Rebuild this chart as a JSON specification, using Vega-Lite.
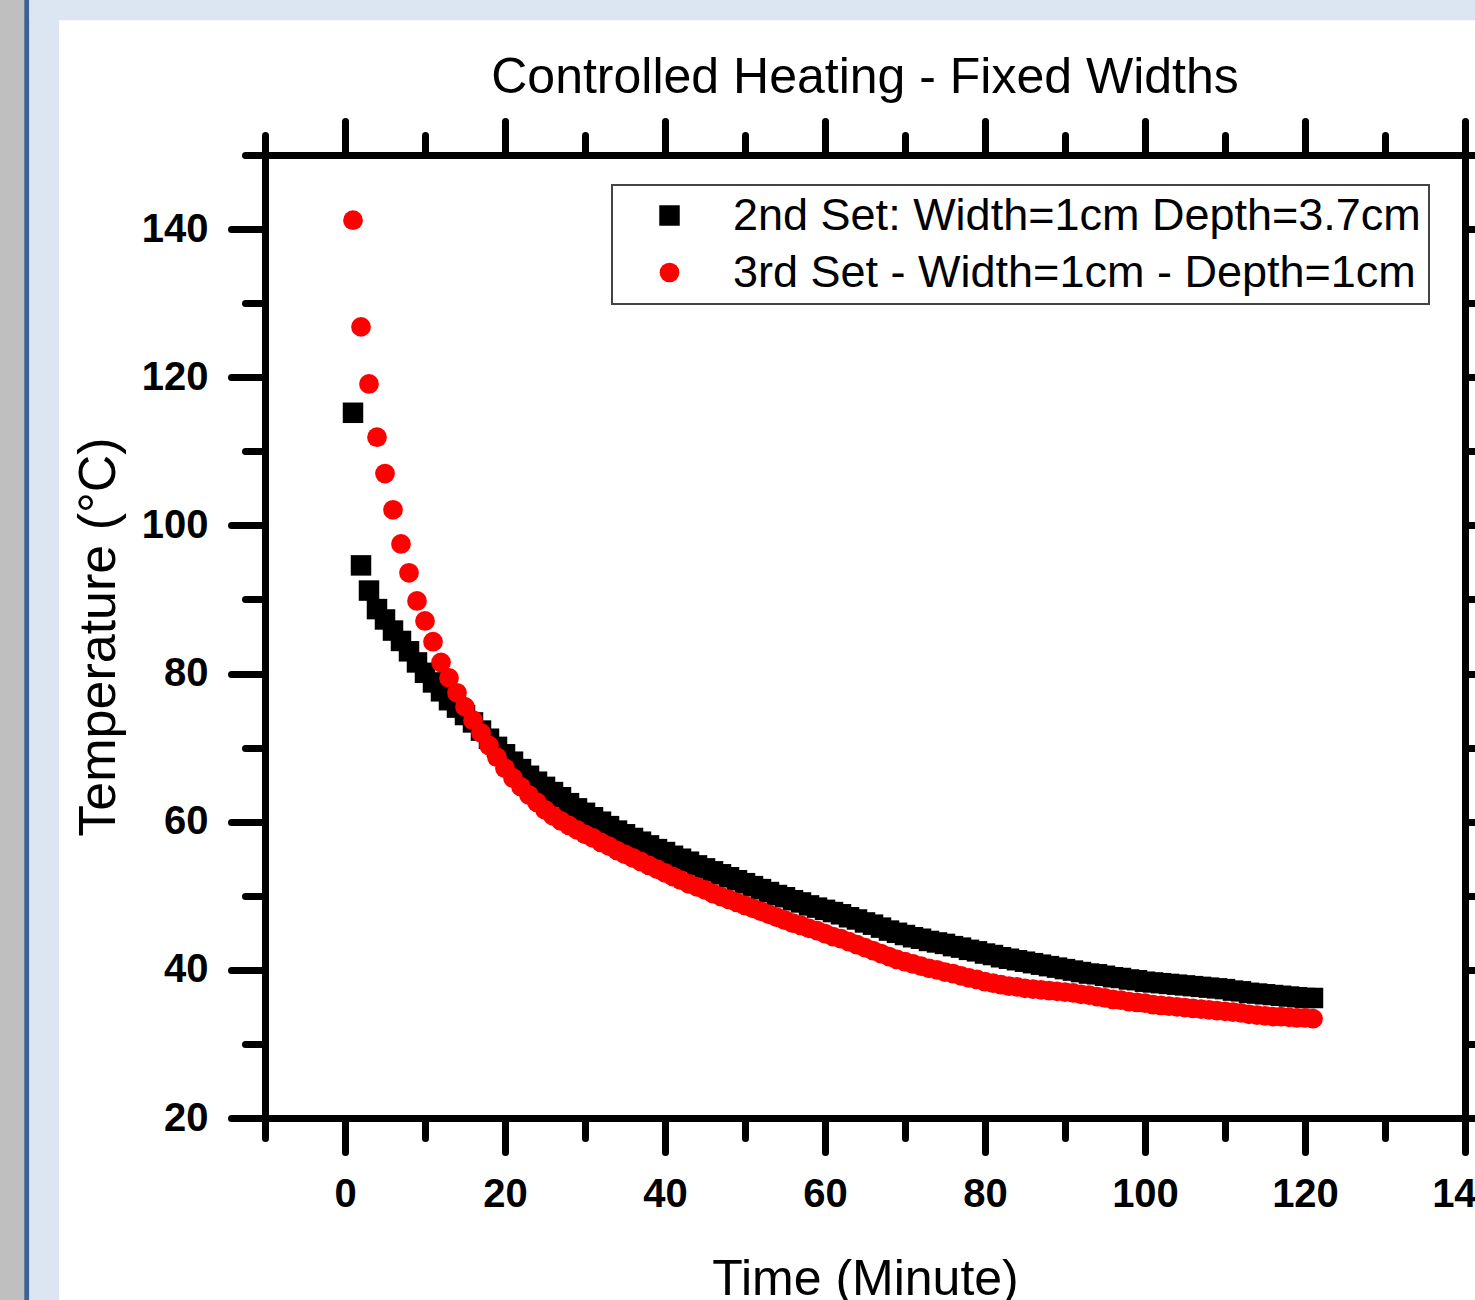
{
  "$schema": "https://vega.github.io/schema/vega-lite/v6.json",
  "width": 1200,
  "height": 963,
  "autosize": {"type": "none"},
  "padding": {"left": 265, "top": 155, "right": 10, "bottom": 182},
  "background": "#ffffff",
  "title": {"text": "Controlled Heating - Fixed Widths", "font": "Liberation Sans", "fontSize": 50, "fontWeight": "normal", "color": "#000000", "anchor": "middle", "frame": "group", "baseline": "alphabetic", "offset": -143},
  "config": {
    "view": {"stroke": null},
    "axis": {
      "domainColor": "#000000", "domainWidth": 7, "domainCap": "square",
      "tickColor": "#000000", "tickWidth": 7, "tickCap": "round",
      "labelFont": "Liberation Sans", "labelFontWeight": "bold", "labelFontSize": 40, "labelColor": "#000000",
      "labelFlush": false, "labelOverlap": false, "grid": false,
      "titleFont": "Liberation Sans", "titleFontSize": 50, "titleFontWeight": "normal", "titleColor": "#000000"
    },
    "legend": {"strokeWidth": 2}
  },
  "layer": [
    {
      "data": {"values": [{}]},
      "mark": {"type": "rect", "color": "#bfbfbf"},
      "encoding": {
        "x": {"datum": -43.2, "type": "quantitative", "scale": {"domain": [-10, 140], "nice": false, "zero": false}, "axis": null},
        "x2": {"datum": -40.1},
        "y": {"datum": -5, "type": "quantitative", "scale": {"domain": [20, 150], "nice": false, "zero": false}, "axis": null},
        "y2": {"datum": 170.95}
      }
    },
    {
      "data": {"values": [{}]},
      "mark": {"type": "rect", "color": "#3d6192"},
      "encoding": {
        "x": {"datum": -40.1, "type": "quantitative", "scale": {"domain": [-10, 140], "nice": false, "zero": false}, "axis": null},
        "x2": {"datum": -39.45},
        "y": {"datum": -5, "type": "quantitative", "scale": {"domain": [20, 150], "nice": false, "zero": false}, "axis": null},
        "y2": {"datum": 170.95}
      }
    },
    {
      "data": {"values": [{}]},
      "mark": {"type": "rect", "color": "#dce6f2"},
      "encoding": {
        "x": {"datum": -39.45, "type": "quantitative", "scale": {"domain": [-10, 140], "nice": false, "zero": false}, "axis": null},
        "x2": {"datum": -35.75},
        "y": {"datum": -5, "type": "quantitative", "scale": {"domain": [20, 150], "nice": false, "zero": false}, "axis": null},
        "y2": {"datum": 170.95}
      }
    },
    {
      "data": {"values": [{}]},
      "mark": {"type": "rect", "color": "#dce6f2"},
      "encoding": {
        "x": {"datum": -39.45, "type": "quantitative", "scale": {"domain": [-10, 140], "nice": false, "zero": false},
          "axis": {"orient": "top", "title": null, "labels": false, "values": [-10, 0, 10, 20, 30, 40, 50, 60, 70, 80, 90, 100, 110, 120, 130, 140],
            "tickSize": {"condition": {"test": "datum.value % 20 === 0", "value": 34}, "value": 20}}},
        "x2": {"datum": 141.3},
        "y": {"datum": 168.2, "type": "quantitative", "scale": {"domain": [20, 150], "nice": false, "zero": false},
          "axis": {"orient": "right", "title": null, "labels": false, "values": [20, 30, 40, 50, 60, 70, 80, 90, 100, 110, 120, 130, 140, 150],
            "tickSize": {"condition": {"test": "datum.value % 20 === 0", "value": 34}, "value": 20}}},
        "y2": {"datum": 170.95}
      }
    },
    {
      "data": {"values": [
        {"t":1,"temp":115.2,"series":"2nd Set: Width=1cm Depth=3.7cm"},
        {"t":2,"temp":94.6,"series":"2nd Set: Width=1cm Depth=3.7cm"},
        {"t":3,"temp":91.2,"series":"2nd Set: Width=1cm Depth=3.7cm"},
        {"t":4,"temp":88.7,"series":"2nd Set: Width=1cm Depth=3.7cm"},
        {"t":5,"temp":87.3,"series":"2nd Set: Width=1cm Depth=3.7cm"},
        {"t":6,"temp":85.8,"series":"2nd Set: Width=1cm Depth=3.7cm"},
        {"t":7,"temp":84.4,"series":"2nd Set: Width=1cm Depth=3.7cm"},
        {"t":8,"temp":83.0,"series":"2nd Set: Width=1cm Depth=3.7cm"},
        {"t":9,"temp":81.5,"series":"2nd Set: Width=1cm Depth=3.7cm"},
        {"t":10,"temp":80.1,"series":"2nd Set: Width=1cm Depth=3.7cm"},
        {"t":11,"temp":78.8,"series":"2nd Set: Width=1cm Depth=3.7cm"},
        {"t":12,"temp":77.6,"series":"2nd Set: Width=1cm Depth=3.7cm"},
        {"t":13,"temp":76.4,"series":"2nd Set: Width=1cm Depth=3.7cm"},
        {"t":14,"temp":75.4,"series":"2nd Set: Width=1cm Depth=3.7cm"},
        {"t":15,"temp":74.4,"series":"2nd Set: Width=1cm Depth=3.7cm"},
        {"t":16,"temp":73.4,"series":"2nd Set: Width=1cm Depth=3.7cm"},
        {"t":17,"temp":72.3,"series":"2nd Set: Width=1cm Depth=3.7cm"},
        {"t":18,"temp":71.2,"series":"2nd Set: Width=1cm Depth=3.7cm"},
        {"t":19,"temp":70.1,"series":"2nd Set: Width=1cm Depth=3.7cm"},
        {"t":20,"temp":69.1,"series":"2nd Set: Width=1cm Depth=3.7cm"},
        {"t":21,"temp":68.1,"series":"2nd Set: Width=1cm Depth=3.7cm"},
        {"t":22,"temp":67.1,"series":"2nd Set: Width=1cm Depth=3.7cm"},
        {"t":23,"temp":66.2,"series":"2nd Set: Width=1cm Depth=3.7cm"},
        {"t":24,"temp":65.4,"series":"2nd Set: Width=1cm Depth=3.7cm"},
        {"t":25,"temp":64.7,"series":"2nd Set: Width=1cm Depth=3.7cm"},
        {"t":26,"temp":64.0,"series":"2nd Set: Width=1cm Depth=3.7cm"},
        {"t":27,"temp":63.3,"series":"2nd Set: Width=1cm Depth=3.7cm"},
        {"t":28,"temp":62.5,"series":"2nd Set: Width=1cm Depth=3.7cm"},
        {"t":29,"temp":61.8,"series":"2nd Set: Width=1cm Depth=3.7cm"},
        {"t":30,"temp":61.2,"series":"2nd Set: Width=1cm Depth=3.7cm"},
        {"t":31,"temp":60.6,"series":"2nd Set: Width=1cm Depth=3.7cm"},
        {"t":32,"temp":60.0,"series":"2nd Set: Width=1cm Depth=3.7cm"},
        {"t":33,"temp":59.4,"series":"2nd Set: Width=1cm Depth=3.7cm"},
        {"t":34,"temp":58.8,"series":"2nd Set: Width=1cm Depth=3.7cm"},
        {"t":35,"temp":58.3,"series":"2nd Set: Width=1cm Depth=3.7cm"},
        {"t":36,"temp":57.8,"series":"2nd Set: Width=1cm Depth=3.7cm"},
        {"t":37,"temp":57.3,"series":"2nd Set: Width=1cm Depth=3.7cm"},
        {"t":38,"temp":56.8,"series":"2nd Set: Width=1cm Depth=3.7cm"},
        {"t":39,"temp":56.3,"series":"2nd Set: Width=1cm Depth=3.7cm"},
        {"t":40,"temp":55.9,"series":"2nd Set: Width=1cm Depth=3.7cm"},
        {"t":41,"temp":55.4,"series":"2nd Set: Width=1cm Depth=3.7cm"},
        {"t":42,"temp":55.0,"series":"2nd Set: Width=1cm Depth=3.7cm"},
        {"t":43,"temp":54.6,"series":"2nd Set: Width=1cm Depth=3.7cm"},
        {"t":44,"temp":54.1,"series":"2nd Set: Width=1cm Depth=3.7cm"},
        {"t":45,"temp":53.7,"series":"2nd Set: Width=1cm Depth=3.7cm"},
        {"t":46,"temp":53.3,"series":"2nd Set: Width=1cm Depth=3.7cm"},
        {"t":47,"temp":52.9,"series":"2nd Set: Width=1cm Depth=3.7cm"},
        {"t":48,"temp":52.5,"series":"2nd Set: Width=1cm Depth=3.7cm"},
        {"t":49,"temp":52.1,"series":"2nd Set: Width=1cm Depth=3.7cm"},
        {"t":50,"temp":51.7,"series":"2nd Set: Width=1cm Depth=3.7cm"},
        {"t":51,"temp":51.3,"series":"2nd Set: Width=1cm Depth=3.7cm"},
        {"t":52,"temp":50.9,"series":"2nd Set: Width=1cm Depth=3.7cm"},
        {"t":53,"temp":50.5,"series":"2nd Set: Width=1cm Depth=3.7cm"},
        {"t":54,"temp":50.1,"series":"2nd Set: Width=1cm Depth=3.7cm"},
        {"t":55,"temp":49.8,"series":"2nd Set: Width=1cm Depth=3.7cm"},
        {"t":56,"temp":49.4,"series":"2nd Set: Width=1cm Depth=3.7cm"},
        {"t":57,"temp":49.1,"series":"2nd Set: Width=1cm Depth=3.7cm"},
        {"t":58,"temp":48.7,"series":"2nd Set: Width=1cm Depth=3.7cm"},
        {"t":59,"temp":48.4,"series":"2nd Set: Width=1cm Depth=3.7cm"},
        {"t":60,"temp":48.1,"series":"2nd Set: Width=1cm Depth=3.7cm"},
        {"t":61,"temp":47.8,"series":"2nd Set: Width=1cm Depth=3.7cm"},
        {"t":62,"temp":47.5,"series":"2nd Set: Width=1cm Depth=3.7cm"},
        {"t":63,"temp":47.1,"series":"2nd Set: Width=1cm Depth=3.7cm"},
        {"t":64,"temp":46.8,"series":"2nd Set: Width=1cm Depth=3.7cm"},
        {"t":65,"temp":46.4,"series":"2nd Set: Width=1cm Depth=3.7cm"},
        {"t":66,"temp":46.1,"series":"2nd Set: Width=1cm Depth=3.7cm"},
        {"t":67,"temp":45.7,"series":"2nd Set: Width=1cm Depth=3.7cm"},
        {"t":68,"temp":45.3,"series":"2nd Set: Width=1cm Depth=3.7cm"},
        {"t":69,"temp":45.0,"series":"2nd Set: Width=1cm Depth=3.7cm"},
        {"t":70,"temp":44.7,"series":"2nd Set: Width=1cm Depth=3.7cm"},
        {"t":71,"temp":44.4,"series":"2nd Set: Width=1cm Depth=3.7cm"},
        {"t":72,"temp":44.2,"series":"2nd Set: Width=1cm Depth=3.7cm"},
        {"t":73,"temp":43.9,"series":"2nd Set: Width=1cm Depth=3.7cm"},
        {"t":74,"temp":43.7,"series":"2nd Set: Width=1cm Depth=3.7cm"},
        {"t":75,"temp":43.5,"series":"2nd Set: Width=1cm Depth=3.7cm"},
        {"t":76,"temp":43.2,"series":"2nd Set: Width=1cm Depth=3.7cm"},
        {"t":77,"temp":43.0,"series":"2nd Set: Width=1cm Depth=3.7cm"},
        {"t":78,"temp":42.7,"series":"2nd Set: Width=1cm Depth=3.7cm"},
        {"t":79,"temp":42.5,"series":"2nd Set: Width=1cm Depth=3.7cm"},
        {"t":80,"temp":42.2,"series":"2nd Set: Width=1cm Depth=3.7cm"},
        {"t":81,"temp":42.0,"series":"2nd Set: Width=1cm Depth=3.7cm"},
        {"t":82,"temp":41.7,"series":"2nd Set: Width=1cm Depth=3.7cm"},
        {"t":83,"temp":41.5,"series":"2nd Set: Width=1cm Depth=3.7cm"},
        {"t":84,"temp":41.3,"series":"2nd Set: Width=1cm Depth=3.7cm"},
        {"t":85,"temp":41.1,"series":"2nd Set: Width=1cm Depth=3.7cm"},
        {"t":86,"temp":40.9,"series":"2nd Set: Width=1cm Depth=3.7cm"},
        {"t":87,"temp":40.7,"series":"2nd Set: Width=1cm Depth=3.7cm"},
        {"t":88,"temp":40.5,"series":"2nd Set: Width=1cm Depth=3.7cm"},
        {"t":89,"temp":40.3,"series":"2nd Set: Width=1cm Depth=3.7cm"},
        {"t":90,"temp":40.1,"series":"2nd Set: Width=1cm Depth=3.7cm"},
        {"t":91,"temp":39.9,"series":"2nd Set: Width=1cm Depth=3.7cm"},
        {"t":92,"temp":39.7,"series":"2nd Set: Width=1cm Depth=3.7cm"},
        {"t":93,"temp":39.5,"series":"2nd Set: Width=1cm Depth=3.7cm"},
        {"t":94,"temp":39.4,"series":"2nd Set: Width=1cm Depth=3.7cm"},
        {"t":95,"temp":39.2,"series":"2nd Set: Width=1cm Depth=3.7cm"},
        {"t":96,"temp":39.0,"series":"2nd Set: Width=1cm Depth=3.7cm"},
        {"t":97,"temp":38.9,"series":"2nd Set: Width=1cm Depth=3.7cm"},
        {"t":98,"temp":38.7,"series":"2nd Set: Width=1cm Depth=3.7cm"},
        {"t":99,"temp":38.6,"series":"2nd Set: Width=1cm Depth=3.7cm"},
        {"t":100,"temp":38.4,"series":"2nd Set: Width=1cm Depth=3.7cm"},
        {"t":101,"temp":38.3,"series":"2nd Set: Width=1cm Depth=3.7cm"},
        {"t":102,"temp":38.2,"series":"2nd Set: Width=1cm Depth=3.7cm"},
        {"t":103,"temp":38.1,"series":"2nd Set: Width=1cm Depth=3.7cm"},
        {"t":104,"temp":38.0,"series":"2nd Set: Width=1cm Depth=3.7cm"},
        {"t":105,"temp":37.9,"series":"2nd Set: Width=1cm Depth=3.7cm"},
        {"t":106,"temp":37.8,"series":"2nd Set: Width=1cm Depth=3.7cm"},
        {"t":107,"temp":37.7,"series":"2nd Set: Width=1cm Depth=3.7cm"},
        {"t":108,"temp":37.6,"series":"2nd Set: Width=1cm Depth=3.7cm"},
        {"t":109,"temp":37.5,"series":"2nd Set: Width=1cm Depth=3.7cm"},
        {"t":110,"temp":37.4,"series":"2nd Set: Width=1cm Depth=3.7cm"},
        {"t":111,"temp":37.2,"series":"2nd Set: Width=1cm Depth=3.7cm"},
        {"t":112,"temp":37.1,"series":"2nd Set: Width=1cm Depth=3.7cm"},
        {"t":113,"temp":36.9,"series":"2nd Set: Width=1cm Depth=3.7cm"},
        {"t":114,"temp":36.8,"series":"2nd Set: Width=1cm Depth=3.7cm"},
        {"t":115,"temp":36.7,"series":"2nd Set: Width=1cm Depth=3.7cm"},
        {"t":116,"temp":36.6,"series":"2nd Set: Width=1cm Depth=3.7cm"},
        {"t":117,"temp":36.5,"series":"2nd Set: Width=1cm Depth=3.7cm"},
        {"t":118,"temp":36.4,"series":"2nd Set: Width=1cm Depth=3.7cm"},
        {"t":119,"temp":36.3,"series":"2nd Set: Width=1cm Depth=3.7cm"},
        {"t":120,"temp":36.2,"series":"2nd Set: Width=1cm Depth=3.7cm"},
        {"t":121,"temp":36.2,"series":"2nd Set: Width=1cm Depth=3.7cm"},
        {"t":1,"temp":141.2,"series":"3rd Set - Width=1cm - Depth=1cm"},
        {"t":2,"temp":126.8,"series":"3rd Set - Width=1cm - Depth=1cm"},
        {"t":3,"temp":119.1,"series":"3rd Set - Width=1cm - Depth=1cm"},
        {"t":4,"temp":111.9,"series":"3rd Set - Width=1cm - Depth=1cm"},
        {"t":5,"temp":107.0,"series":"3rd Set - Width=1cm - Depth=1cm"},
        {"t":6,"temp":102.1,"series":"3rd Set - Width=1cm - Depth=1cm"},
        {"t":7,"temp":97.5,"series":"3rd Set - Width=1cm - Depth=1cm"},
        {"t":8,"temp":93.6,"series":"3rd Set - Width=1cm - Depth=1cm"},
        {"t":9,"temp":89.8,"series":"3rd Set - Width=1cm - Depth=1cm"},
        {"t":10,"temp":87.1,"series":"3rd Set - Width=1cm - Depth=1cm"},
        {"t":11,"temp":84.3,"series":"3rd Set - Width=1cm - Depth=1cm"},
        {"t":12,"temp":81.5,"series":"3rd Set - Width=1cm - Depth=1cm"},
        {"t":13,"temp":79.4,"series":"3rd Set - Width=1cm - Depth=1cm"},
        {"t":14,"temp":77.4,"series":"3rd Set - Width=1cm - Depth=1cm"},
        {"t":15,"temp":75.5,"series":"3rd Set - Width=1cm - Depth=1cm"},
        {"t":16,"temp":73.7,"series":"3rd Set - Width=1cm - Depth=1cm"},
        {"t":17,"temp":72.0,"series":"3rd Set - Width=1cm - Depth=1cm"},
        {"t":18,"temp":70.3,"series":"3rd Set - Width=1cm - Depth=1cm"},
        {"t":19,"temp":68.7,"series":"3rd Set - Width=1cm - Depth=1cm"},
        {"t":20,"temp":67.2,"series":"3rd Set - Width=1cm - Depth=1cm"},
        {"t":21,"temp":65.9,"series":"3rd Set - Width=1cm - Depth=1cm"},
        {"t":22,"temp":64.7,"series":"3rd Set - Width=1cm - Depth=1cm"},
        {"t":23,"temp":63.6,"series":"3rd Set - Width=1cm - Depth=1cm"},
        {"t":24,"temp":62.6,"series":"3rd Set - Width=1cm - Depth=1cm"},
        {"t":25,"temp":61.6,"series":"3rd Set - Width=1cm - Depth=1cm"},
        {"t":26,"temp":60.8,"series":"3rd Set - Width=1cm - Depth=1cm"},
        {"t":27,"temp":60.1,"series":"3rd Set - Width=1cm - Depth=1cm"},
        {"t":28,"temp":59.5,"series":"3rd Set - Width=1cm - Depth=1cm"},
        {"t":29,"temp":58.9,"series":"3rd Set - Width=1cm - Depth=1cm"},
        {"t":30,"temp":58.3,"series":"3rd Set - Width=1cm - Depth=1cm"},
        {"t":31,"temp":57.8,"series":"3rd Set - Width=1cm - Depth=1cm"},
        {"t":32,"temp":57.2,"series":"3rd Set - Width=1cm - Depth=1cm"},
        {"t":33,"temp":56.7,"series":"3rd Set - Width=1cm - Depth=1cm"},
        {"t":34,"temp":56.1,"series":"3rd Set - Width=1cm - Depth=1cm"},
        {"t":35,"temp":55.6,"series":"3rd Set - Width=1cm - Depth=1cm"},
        {"t":36,"temp":55.1,"series":"3rd Set - Width=1cm - Depth=1cm"},
        {"t":37,"temp":54.6,"series":"3rd Set - Width=1cm - Depth=1cm"},
        {"t":38,"temp":54.1,"series":"3rd Set - Width=1cm - Depth=1cm"},
        {"t":39,"temp":53.6,"series":"3rd Set - Width=1cm - Depth=1cm"},
        {"t":40,"temp":53.1,"series":"3rd Set - Width=1cm - Depth=1cm"},
        {"t":41,"temp":52.6,"series":"3rd Set - Width=1cm - Depth=1cm"},
        {"t":42,"temp":52.1,"series":"3rd Set - Width=1cm - Depth=1cm"},
        {"t":43,"temp":51.6,"series":"3rd Set - Width=1cm - Depth=1cm"},
        {"t":44,"temp":51.2,"series":"3rd Set - Width=1cm - Depth=1cm"},
        {"t":45,"temp":50.8,"series":"3rd Set - Width=1cm - Depth=1cm"},
        {"t":46,"temp":50.3,"series":"3rd Set - Width=1cm - Depth=1cm"},
        {"t":47,"temp":49.9,"series":"3rd Set - Width=1cm - Depth=1cm"},
        {"t":48,"temp":49.5,"series":"3rd Set - Width=1cm - Depth=1cm"},
        {"t":49,"temp":49.1,"series":"3rd Set - Width=1cm - Depth=1cm"},
        {"t":50,"temp":48.7,"series":"3rd Set - Width=1cm - Depth=1cm"},
        {"t":51,"temp":48.3,"series":"3rd Set - Width=1cm - Depth=1cm"},
        {"t":52,"temp":47.9,"series":"3rd Set - Width=1cm - Depth=1cm"},
        {"t":53,"temp":47.5,"series":"3rd Set - Width=1cm - Depth=1cm"},
        {"t":54,"temp":47.1,"series":"3rd Set - Width=1cm - Depth=1cm"},
        {"t":55,"temp":46.7,"series":"3rd Set - Width=1cm - Depth=1cm"},
        {"t":56,"temp":46.3,"series":"3rd Set - Width=1cm - Depth=1cm"},
        {"t":57,"temp":46.0,"series":"3rd Set - Width=1cm - Depth=1cm"},
        {"t":58,"temp":45.6,"series":"3rd Set - Width=1cm - Depth=1cm"},
        {"t":59,"temp":45.3,"series":"3rd Set - Width=1cm - Depth=1cm"},
        {"t":60,"temp":44.9,"series":"3rd Set - Width=1cm - Depth=1cm"},
        {"t":61,"temp":44.5,"series":"3rd Set - Width=1cm - Depth=1cm"},
        {"t":62,"temp":44.2,"series":"3rd Set - Width=1cm - Depth=1cm"},
        {"t":63,"temp":43.8,"series":"3rd Set - Width=1cm - Depth=1cm"},
        {"t":64,"temp":43.4,"series":"3rd Set - Width=1cm - Depth=1cm"},
        {"t":65,"temp":43.0,"series":"3rd Set - Width=1cm - Depth=1cm"},
        {"t":66,"temp":42.6,"series":"3rd Set - Width=1cm - Depth=1cm"},
        {"t":67,"temp":42.2,"series":"3rd Set - Width=1cm - Depth=1cm"},
        {"t":68,"temp":41.8,"series":"3rd Set - Width=1cm - Depth=1cm"},
        {"t":69,"temp":41.4,"series":"3rd Set - Width=1cm - Depth=1cm"},
        {"t":70,"temp":41.1,"series":"3rd Set - Width=1cm - Depth=1cm"},
        {"t":71,"temp":40.8,"series":"3rd Set - Width=1cm - Depth=1cm"},
        {"t":72,"temp":40.5,"series":"3rd Set - Width=1cm - Depth=1cm"},
        {"t":73,"temp":40.2,"series":"3rd Set - Width=1cm - Depth=1cm"},
        {"t":74,"temp":40.0,"series":"3rd Set - Width=1cm - Depth=1cm"},
        {"t":75,"temp":39.7,"series":"3rd Set - Width=1cm - Depth=1cm"},
        {"t":76,"temp":39.5,"series":"3rd Set - Width=1cm - Depth=1cm"},
        {"t":77,"temp":39.2,"series":"3rd Set - Width=1cm - Depth=1cm"},
        {"t":78,"temp":38.9,"series":"3rd Set - Width=1cm - Depth=1cm"},
        {"t":79,"temp":38.7,"series":"3rd Set - Width=1cm - Depth=1cm"},
        {"t":80,"temp":38.4,"series":"3rd Set - Width=1cm - Depth=1cm"},
        {"t":81,"temp":38.2,"series":"3rd Set - Width=1cm - Depth=1cm"},
        {"t":82,"temp":38.0,"series":"3rd Set - Width=1cm - Depth=1cm"},
        {"t":83,"temp":37.8,"series":"3rd Set - Width=1cm - Depth=1cm"},
        {"t":84,"temp":37.7,"series":"3rd Set - Width=1cm - Depth=1cm"},
        {"t":85,"temp":37.5,"series":"3rd Set - Width=1cm - Depth=1cm"},
        {"t":86,"temp":37.4,"series":"3rd Set - Width=1cm - Depth=1cm"},
        {"t":87,"temp":37.3,"series":"3rd Set - Width=1cm - Depth=1cm"},
        {"t":88,"temp":37.2,"series":"3rd Set - Width=1cm - Depth=1cm"},
        {"t":89,"temp":37.1,"series":"3rd Set - Width=1cm - Depth=1cm"},
        {"t":90,"temp":37.0,"series":"3rd Set - Width=1cm - Depth=1cm"},
        {"t":91,"temp":36.9,"series":"3rd Set - Width=1cm - Depth=1cm"},
        {"t":92,"temp":36.7,"series":"3rd Set - Width=1cm - Depth=1cm"},
        {"t":93,"temp":36.6,"series":"3rd Set - Width=1cm - Depth=1cm"},
        {"t":94,"temp":36.4,"series":"3rd Set - Width=1cm - Depth=1cm"},
        {"t":95,"temp":36.2,"series":"3rd Set - Width=1cm - Depth=1cm"},
        {"t":96,"temp":36.0,"series":"3rd Set - Width=1cm - Depth=1cm"},
        {"t":97,"temp":35.9,"series":"3rd Set - Width=1cm - Depth=1cm"},
        {"t":98,"temp":35.7,"series":"3rd Set - Width=1cm - Depth=1cm"},
        {"t":99,"temp":35.6,"series":"3rd Set - Width=1cm - Depth=1cm"},
        {"t":100,"temp":35.5,"series":"3rd Set - Width=1cm - Depth=1cm"},
        {"t":101,"temp":35.3,"series":"3rd Set - Width=1cm - Depth=1cm"},
        {"t":102,"temp":35.2,"series":"3rd Set - Width=1cm - Depth=1cm"},
        {"t":103,"temp":35.1,"series":"3rd Set - Width=1cm - Depth=1cm"},
        {"t":104,"temp":35.0,"series":"3rd Set - Width=1cm - Depth=1cm"},
        {"t":105,"temp":34.9,"series":"3rd Set - Width=1cm - Depth=1cm"},
        {"t":106,"temp":34.8,"series":"3rd Set - Width=1cm - Depth=1cm"},
        {"t":107,"temp":34.7,"series":"3rd Set - Width=1cm - Depth=1cm"},
        {"t":108,"temp":34.6,"series":"3rd Set - Width=1cm - Depth=1cm"},
        {"t":109,"temp":34.5,"series":"3rd Set - Width=1cm - Depth=1cm"},
        {"t":110,"temp":34.4,"series":"3rd Set - Width=1cm - Depth=1cm"},
        {"t":111,"temp":34.3,"series":"3rd Set - Width=1cm - Depth=1cm"},
        {"t":112,"temp":34.2,"series":"3rd Set - Width=1cm - Depth=1cm"},
        {"t":113,"temp":34.0,"series":"3rd Set - Width=1cm - Depth=1cm"},
        {"t":114,"temp":33.9,"series":"3rd Set - Width=1cm - Depth=1cm"},
        {"t":115,"temp":33.8,"series":"3rd Set - Width=1cm - Depth=1cm"},
        {"t":116,"temp":33.7,"series":"3rd Set - Width=1cm - Depth=1cm"},
        {"t":117,"temp":33.7,"series":"3rd Set - Width=1cm - Depth=1cm"},
        {"t":118,"temp":33.6,"series":"3rd Set - Width=1cm - Depth=1cm"},
        {"t":119,"temp":33.5,"series":"3rd Set - Width=1cm - Depth=1cm"},
        {"t":120,"temp":33.5,"series":"3rd Set - Width=1cm - Depth=1cm"},
        {"t":121,"temp":33.4,"series":"3rd Set - Width=1cm - Depth=1cm"}
      ]},
      "mark": {"type": "point", "filled": true, "opacity": 1, "strokeWidth": 0},
      "encoding": {
        "x": {"field": "t", "type": "quantitative", "scale": {"domain": [-10, 140], "nice": false, "zero": false},
          "axis": {"orient": "bottom", "title": "Time (Minute)", "titlePadding": 40, "labelPadding": 22,
            "values": [-10, 0, 10, 20, 30, 40, 50, 60, 70, 80, 90, 100, 110, 120, 130, 140],
            "labelExpr": "datum.value % 20 === 0 ? datum.label : ''",
            "tickSize": {"condition": {"test": "datum.value % 20 === 0", "value": 34}, "value": 20}}},
        "y": {"field": "temp", "type": "quantitative", "scale": {"domain": [20, 150], "nice": false, "zero": false},
          "axis": {"orient": "left", "title": "Temperature (°C)", "titleFontSize": 52, "titlePadding": 16, "labelPadding": 23,
            "values": [20, 30, 40, 50, 60, 70, 80, 90, 100, 110, 120, 130, 140, 150],
            "labelExpr": "datum.value % 20 === 0 ? datum.label : ''",
            "tickSize": {"condition": {"test": "datum.value % 20 === 0", "value": 34}, "value": 20}}},
        "color": {"field": "series", "type": "nominal",
          "scale": {"domain": ["2nd Set: Width=1cm Depth=3.7cm", "3rd Set - Width=1cm - Depth=1cm"], "range": ["#000000", "#ff0000"]},
          "legend": {"orient": "none", "legendX": 347, "legendY": 30, "title": null,
            "fillColor": "#ffffff", "strokeColor": "#444444", "padding": 8,
            "labelFont": "Liberation Sans", "labelFontSize": 45, "labelColor": "#000000", "labelLimit": 2000,
            "symbolSize": 390, "symbolOpacity": 1, "symbolStrokeWidth": 0, "symbolOffset": 27, "labelOffset": 41, "rowPadding": 11}},
        "shape": {"field": "series", "type": "nominal",
          "scale": {"domain": ["2nd Set: Width=1cm Depth=3.7cm", "3rd Set - Width=1cm - Depth=1cm"], "range": ["square", "circle"]}},
        "size": {"field": "series", "type": "nominal",
          "scale": {"domain": ["2nd Set: Width=1cm Depth=3.7cm", "3rd Set - Width=1cm - Depth=1cm"], "range": [420, 390]}, "legend": null}
      }
    }
  ],
  "resolve": {"axis": {"x": "independent", "y": "independent"}}
}
